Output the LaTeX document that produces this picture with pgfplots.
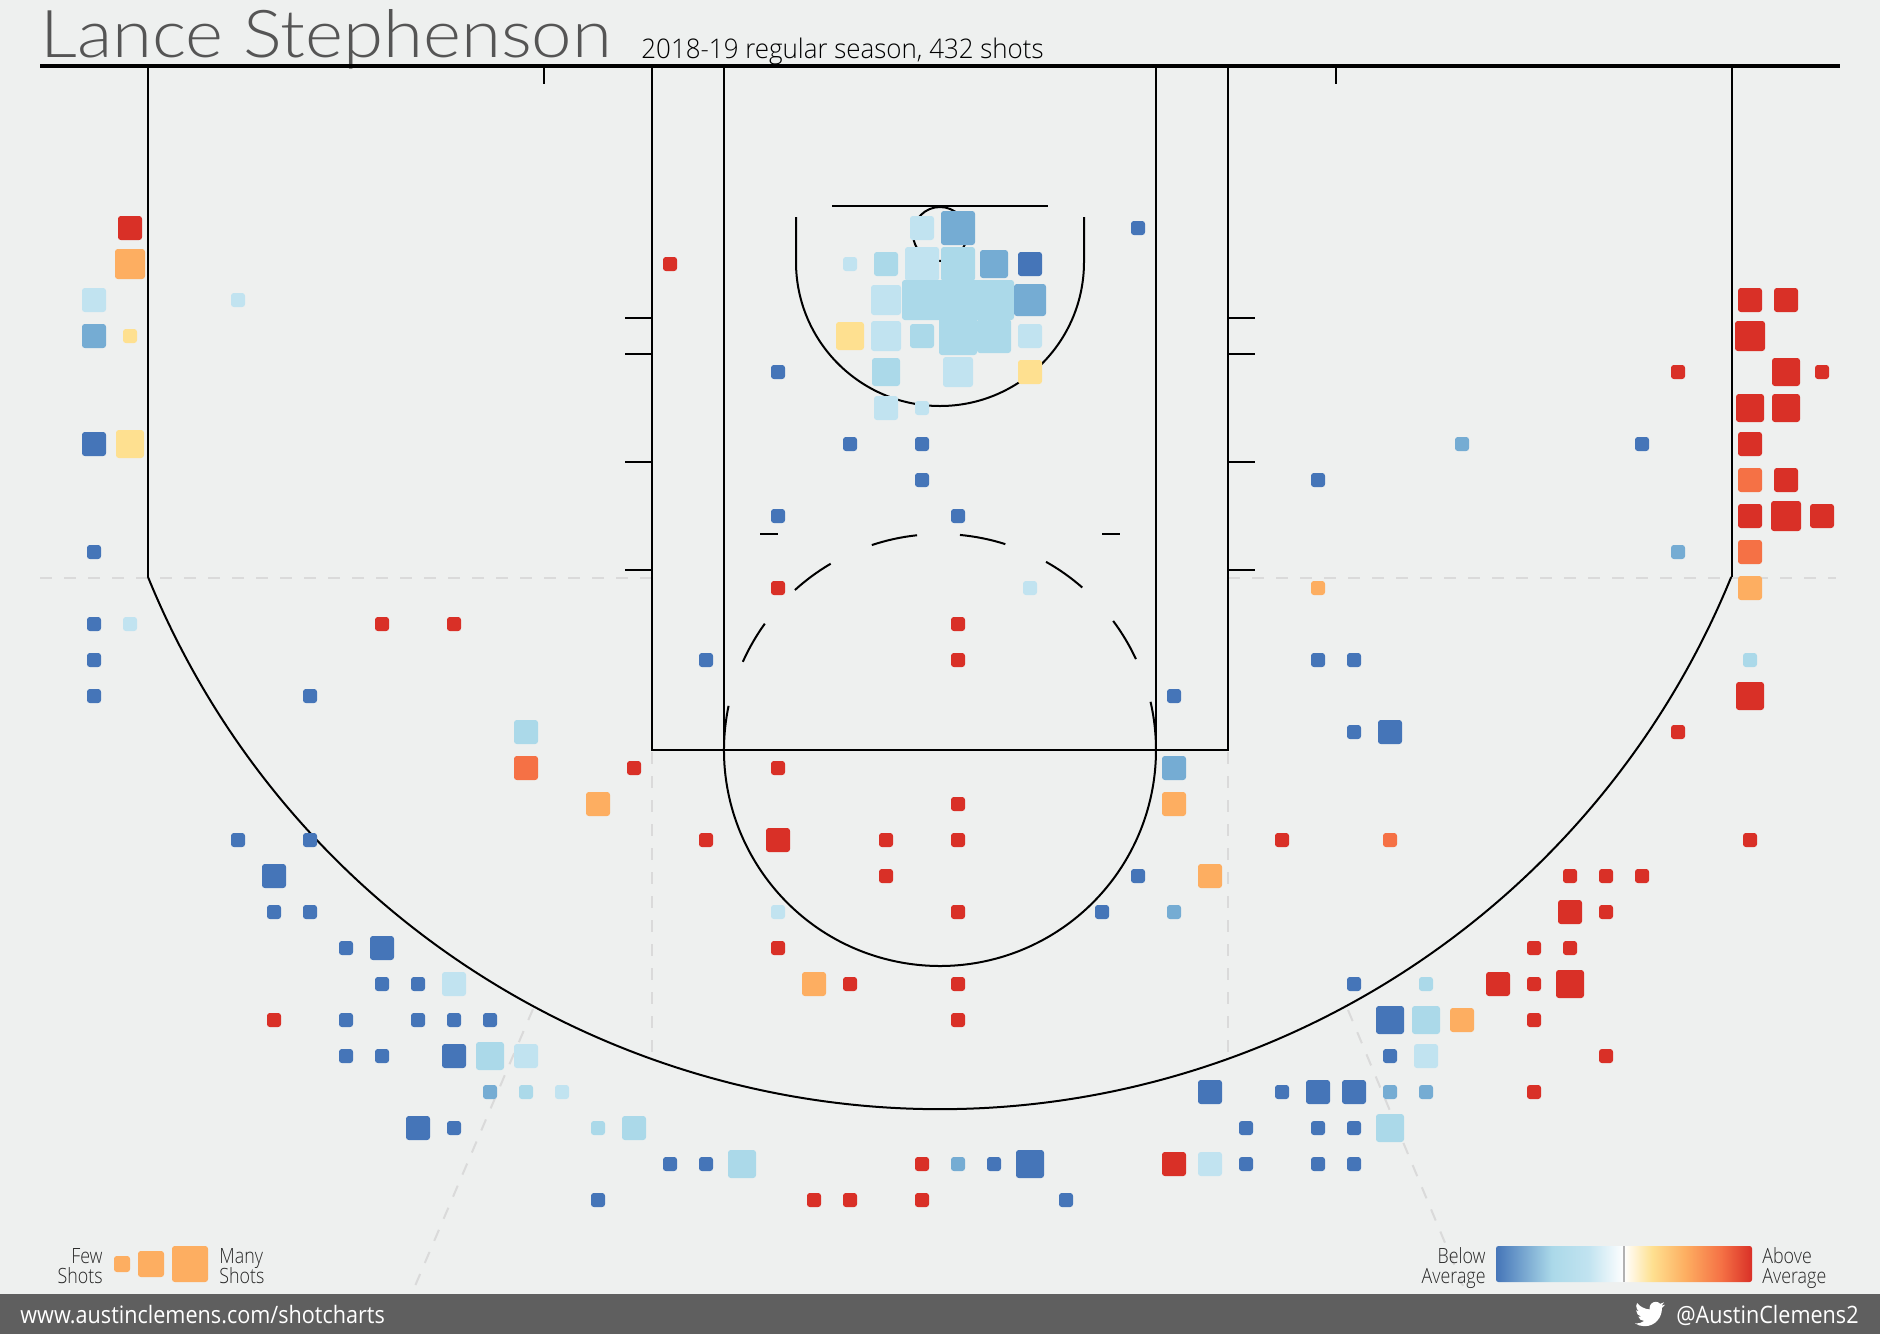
\documentclass[border=0pt]{standalone}
\usepackage{fontspec}
\usepackage{pgfplots}
\usepackage{pgfplotstable}
\pgfplotsset{compat=1.18}
\setmainfont{Lato}
\newfontfamily\titlefont[FakeStretch=1.1]{Lato Light}
\newfontfamily\subfont[FakeStretch=0.96]{Open Sans Light}
\newfontfamily\legfont[FakeStretch=0.85]{Open Sans Light}
\newfontfamily\footfont[FakeStretch=0.9]{Open Sans}

\definecolor{bgcol}{HTML}{EEF0EF}
\definecolor{footcol}{HTML}{5F5F5F}
\definecolor{titlecol}{HTML}{555555}
\definecolor{dashcol}{HTML}{DADADA}
\definecolor{cDark}{HTML}{4575B8}
\definecolor{cMid}{HTML}{75ACD3}
\definecolor{cLight}{HTML}{ABD9E9}
\definecolor{cPale}{HTML}{C1E3F0}
\definecolor{cYellow}{HTML}{FEE090}
\definecolor{cOrange}{HTML}{FDAE61}
\definecolor{cHot}{HTML}{F57145}
\definecolor{cRed}{HTML}{D93027}

\pgfdeclareplotmark{rsq}{%
  \pgfsetcornersarced{\pgfpoint{1.4pt}{1.4pt}}%
  \pgfpathmoveto{\pgfpoint{0pt}{-\pgfplotmarksize}}%
  \pgfpathlineto{\pgfpoint{\pgfplotmarksize}{-\pgfplotmarksize}}%
  \pgfpathlineto{\pgfpoint{\pgfplotmarksize}{\pgfplotmarksize}}%
  \pgfpathlineto{\pgfpoint{-\pgfplotmarksize}{\pgfplotmarksize}}%
  \pgfpathlineto{\pgfpoint{-\pgfplotmarksize}{-\pgfplotmarksize}}%
  \pgfpathclose
  \pgfusepath{fill}}

\pgfdeclarehorizontalshading{avgbar}{100bp}{
  color(0bp)=(cDark); color(25bp)=(cDark); color(36bp)=(cLight); color(43bp)=(cPale);
  color(50bp)=(white); color(55.5bp)=(cYellow); color(62bp)=(cOrange);
  color(69bp)=(cHot); color(75bp)=(cRed); color(100bp)=(cRed)}

% x y in image pixels, s = side of the square in pixels
\pgfplotstableread{
x y s
922 228 24
850 264 14
922 264 34
886 300 30
886 336 30
1030 336 24
958 372 30
886 408 24
922 408 14
94 300 24
238 300 14
130 624 14
454 984 24
526 1056 24
562 1092 14
1030 588 14
778 912 14
1210 1164 24
1426 1056 24
}\tblPale
\pgfplotstableread{
x y s
958 264 34
886 264 24
922 336 24
922 300 40
958 300 40
994 300 40
958 336 38
994 336 34
886 372 28
526 732 24
490 1056 28
526 1092 14
598 1128 14
634 1128 24
742 1164 28
1750 660 14
1426 984 14
1426 1020 28
1390 1128 28
}\tblLight
\pgfplotstableread{
x y s
958 228 34
994 264 28
1030 300 32
94 336 24
1462 444 14
1678 552 14
1174 768 24
1174 912 14
490 1092 14
958 1164 14
1390 1092 14
1426 1092 14
}\tblMid
\pgfplotstableread{
x y s
1030 264 24
1138 228 14
778 372 14
850 444 14
922 444 14
922 480 14
778 516 14
958 516 14
94 444 24
94 552 14
94 624 14
94 660 14
94 696 14
310 696 14
706 660 14
1174 696 14
1318 480 14
1642 444 14
1318 660 14
1354 660 14
1354 732 14
1390 732 24
238 840 14
310 840 14
274 876 24
274 912 14
310 912 14
346 948 14
382 948 24
382 984 14
418 984 14
346 1020 14
418 1020 14
454 1020 14
490 1020 14
346 1056 14
382 1056 14
454 1056 24
418 1128 24
454 1128 14
670 1164 14
706 1164 14
994 1164 14
1030 1164 28
1246 1164 14
1318 1164 14
1354 1164 14
598 1200 14
1066 1200 14
1138 876 14
1102 912 14
1354 984 14
1390 1020 28
1390 1056 14
1210 1092 24
1282 1092 14
1318 1092 24
1354 1092 24
1246 1128 14
1318 1128 14
1354 1128 14
}\tblDark
\pgfplotstableread{
x y s
850 336 28
1030 372 24
130 336 14
130 444 28
}\tblYellow
\pgfplotstableread{
x y s
130 264 30
598 804 24
1318 588 14
1750 588 24
1174 804 24
1210 876 24
814 984 24
1462 1020 24
122 1264 16
151 1264 26
190 1264 36
}\tblOrange
\pgfplotstableread{
x y s
526 768 24
1750 480 24
1750 552 24
1390 840 14
}\tblHot
\pgfplotstableread{
x y s
130 228 24
670 264 14
382 624 14
454 624 14
634 768 14
274 1020 14
778 588 14
958 624 14
958 660 14
778 768 14
958 804 14
706 840 14
778 840 24
886 840 14
958 840 14
1282 840 14
1750 840 14
886 876 14
1570 876 14
1606 876 14
1642 876 14
958 912 14
1570 912 24
1606 912 14
778 948 14
1534 948 14
1570 948 14
850 984 14
958 984 14
1498 984 24
1534 984 14
1570 984 28
958 1020 14
1534 1020 14
1606 1056 14
1534 1092 14
922 1164 14
1174 1164 24
814 1200 14
850 1200 14
922 1200 14
1678 372 14
1750 300 24
1786 300 24
1750 336 30
1786 372 28
1822 372 14
1750 408 28
1786 408 28
1750 444 24
1786 480 24
1750 516 24
1786 516 30
1822 516 24
1750 696 28
1678 732 14
}\tblRed

\newcommand{\zone}[2]{%
  \addplot[scatter, only marks, mark=rsq,
    scatter/use mapped color={fill=#1},
    visualization depends on={\thisrow{s}/4 \as \halfside},
    scatter/@pre marker code/.append style={/tikz/mark size=\halfside}]
    table[x=x, y=y] {#2};}
% piece of the free throw circle
\newcommand{\ftarc}[2]{\draw[line width=1pt] (940,750) ++(#1:108pt) arc[start angle=#1, end angle=#2, radius=108pt];}
\newcommand{\ltext}[4]{\node[anchor=base #1, inner sep=0pt, text=#2] at (#3) {#4};}

\begin{document}
\begin{tikzpicture}
\begin{axis}[
  scale only axis,
  width=940pt, height=667pt,
  xmin=0, xmax=1880, ymin=0, ymax=1334,
  y dir=reverse,
  hide axis,
  clip=false,
]
\fill[bgcol] (0,0) rectangle (1880,1334);

% dashed guides
\draw[dashcol, line width=1pt, dash pattern=on 6pt off 6pt] (40,578) -- (652,578);
\draw[dashcol, line width=1pt, dash pattern=on 6pt off 6pt] (1228,578) -- (1836,578);
\draw[dashcol, line width=1pt, dash pattern=on 6pt off 6pt] (652,752) -- (652,1054);
\draw[dashcol, line width=1pt, dash pattern=on 6pt off 6pt] (1228,752) -- (1228,1054);
\draw[dashcol, line width=1pt, dash pattern=on 6pt off 6pt] (533,1009) -- (415,1286);
\draw[dashcol, line width=1pt, dash pattern=on 6pt off 6pt] (1348,1010) -- (1463,1286);

% court
\draw[line width=1pt] (148,66) -- (148,577);
\draw[line width=1pt] (1732,66) -- (1732,577);
\draw[line width=1pt] (148,577) arc[start angle=202.2, end angle=337.8, radius=427.5pt];
\draw[line width=1pt] (652,66) -- (652,750) -- (1228,750) -- (1228,66);
\draw[line width=1pt] (724,66) -- (724,750);
\draw[line width=1pt] (1156,66) -- (1156,750);
\draw[line width=1pt] (544,66) -- (544,84);
\draw[line width=1pt] (1336,66) -- (1336,84);
\draw[line width=1pt] (625,318) -- (652,318);
\draw[line width=1pt] (625,354) -- (652,354);
\draw[line width=1pt] (625,462) -- (652,462);
\draw[line width=1pt] (625,570) -- (652,570);
\draw[line width=1pt] (1228,318) -- (1255,318);
\draw[line width=1pt] (1228,354) -- (1255,354);
\draw[line width=1pt] (1228,462) -- (1255,462);
\draw[line width=1pt] (1228,570) -- (1255,570);
\draw[line width=1pt] (760,533.5) -- (778,533.5);
\draw[line width=1pt] (1102,533.5) -- (1120,533.5);
\ftarc{168.2}{372.9}
\ftarc{155.9}{144.2}
\ftarc{132.2}{120.4}
\ftarc{108.4}{96.1}
\ftarc{84.7}{72.4}
\ftarc{60.6}{48.8}
\ftarc{36.7}{24.9}
\draw[line width=1pt] (796,217) -- (796,262) arc[start angle=180, end angle=360, radius=72pt] -- (1084,217);
\draw[line width=1pt] (832,206) -- (1048,206);
\draw[line width=1pt] (940,234) circle[radius=13.5pt];

% shot zones
\zone{cPale}{\tblPale}
\zone{cLight}{\tblLight}
\zone{cMid}{\tblMid}
\zone{cDark}{\tblDark}
\zone{cYellow}{\tblYellow}
\zone{cOrange}{\tblOrange}
\zone{cHot}{\tblHot}
\zone{cRed}{\tblRed}

% header
\ltext{west}{titlecol}{40,57}{\titlefont\fontsize{33}{33}\selectfont Lance Stephenson}
\draw[black, line width=2pt] (40,66) -- (1840,66);
\ltext{west}{black}{641,58}{\subfont\fontsize{13.5}{13.5}\selectfont 2018-19 regular season, 432 shots}

% legends
\ltext{east}{black!85}{103,1263}{\legfont\fontsize{10.5}{10.5}\selectfont Few}
\ltext{east}{black!85}{103,1283}{\legfont\fontsize{10.5}{10.5}\selectfont Shots}
\ltext{west}{black!85}{219,1263}{\legfont\fontsize{10.5}{10.5}\selectfont Many}
\ltext{west}{black!85}{219,1283}{\legfont\fontsize{10.5}{10.5}\selectfont Shots}
\ltext{east}{black!85}{1486,1263}{\legfont\fontsize{10.5}{10.5}\selectfont Below}
\ltext{east}{black!85}{1486,1283}{\legfont\fontsize{10.5}{10.5}\selectfont Average}
\ltext{west}{black!85}{1762,1263}{\legfont\fontsize{10.5}{10.5}\selectfont Above}
\ltext{west}{black!85}{1762,1283}{\legfont\fontsize{10.5}{10.5}\selectfont Average}
\shade[shading=avgbar, rounded corners=1.2pt] (1496,1246) rectangle (1752,1282);
\draw[black!30, line width=1pt] (1624,1246) -- (1624,1282);

% footer
\fill[footcol] (0,1294) rectangle (1880,1334);
\ltext{west}{white}{20,1323}{\footfont\fontsize{12}{12}\selectfont www.austinclemens.com/shotcharts}
\ltext{east}{white}{1859,1323}{\footfont\fontsize{12}{12}\selectfont @AustinClemens2}
% bird
\fill[white] (1664.9,1304.7) -- (1661.4,1305.7) -- (1664.1,1302.3) -- (1660.2,1303.8)
  .. controls (1659.1,1302.5) and (1657.5,1301.8) .. (1655.8,1301.8)
  .. controls (1652.4,1301.8) and (1649.6,1304.5) .. (1649.6,1307.9)
  .. controls (1649.6,1308.4) and (1649.7,1308.9) .. (1649.7,1309.4)
  .. controls (1644.6,1309.1) and (1640.1,1306.7) .. (1637.1,1303)
  .. controls (1636.5,1303.9) and (1636.2,1304.9) .. (1636.2,1306)
  .. controls (1636.2,1308.2) and (1637.3,1310.1) .. (1639,1311.2)
  .. controls (1638,1311.1) and (1637,1310.9) .. (1636.2,1310.4)
  -- (1636.2,1310.5)
  .. controls (1636.2,1313.5) and (1638.3,1315.9) .. (1641.1,1316.5)
  .. controls (1640.2,1316.7) and (1639.3,1316.8) .. (1638.3,1316.6)
  .. controls (1639.1,1319.1) and (1641.4,1320.8) .. (1644.1,1320.9)
  .. controls (1642,1322.5) and (1639.3,1323.5) .. (1636.5,1323.5)
  .. controls (1636,1323.5) and (1635.5,1323.5) .. (1635,1323.4)
  .. controls (1637.7,1325.2) and (1641,1326.2) .. (1644.5,1326.2)
  .. controls (1655.8,1326.2) and (1661.9,1316.8) .. (1661.9,1308.7)
  .. controls (1661.9,1308.5) and (1661.9,1308.2) .. (1661.9,1307.9)
  .. controls (1663.1,1307.1) and (1664.2,1306) .. (1665,1304.7) -- cycle;
\end{axis}
\end{tikzpicture}
\end{document}
